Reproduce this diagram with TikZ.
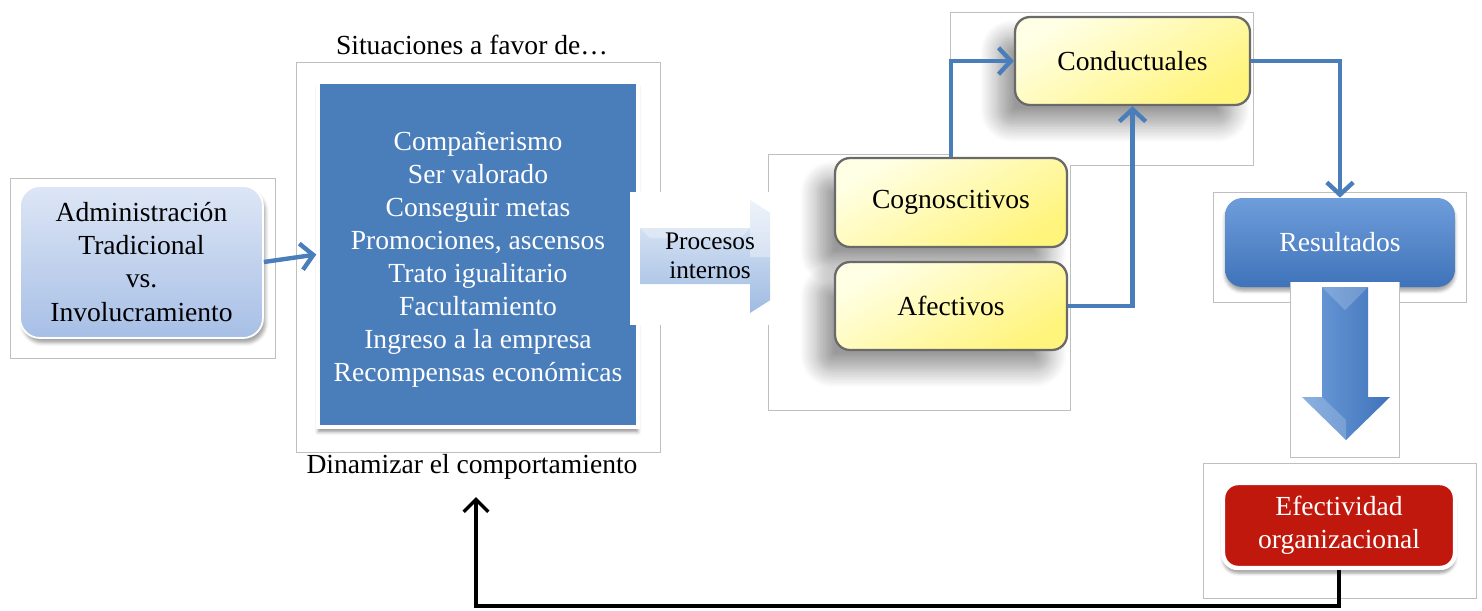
\documentclass[tikz,border=0pt]{standalone}
\usepackage{fontspec}
\setmainfont{Liberation Serif}
\usetikzlibrary{arrows.meta,shadows.blur}
\definecolor{frm}{HTML}{BFBFBF}
\definecolor{sqblue}{HTML}{4A7EBB}
\definecolor{arrblue}{HTML}{4A7EBB}
\definecolor{ylight}{HTML}{FFFFE6}
\definecolor{ydark}{HTML}{FFF47C}
\definecolor{ybord}{HTML}{6A6A6A}
\definecolor{adtop}{HTML}{DDE6F5}
\definecolor{adbot}{HTML}{A7BFE6}
\definecolor{restop}{HTML}{6E9DDA}
\definecolor{resbot}{HTML}{3F73BA}
\definecolor{efred}{HTML}{C0180C}
\definecolor{prtop}{HTML}{E4ECF8}
\definecolor{prbot}{HTML}{9FBBE2}
\begin{document}
\begin{tikzpicture}[x=0.02cm,y=-0.02cm,
  frame/.style={draw=frm,line width=0.5pt},
  txt/.style={font=\fontsize{15.7pt}{18.8pt}\selectfont,align=center},
  admin/.style={txt,rounded corners=0.4cm,top color=adtop,bottom color=adbot,draw=white,line width=1pt,
     blur shadow={shadow xshift=0.05cm,shadow yshift=-0.1cm,shadow opacity=35}},
  bluesq/.style={fill=sqblue,draw=white,line width=2pt,
     blur shadow={shadow xshift=0cm,shadow yshift=-0.1cm,shadow opacity=40}},
  yellowbox/.style={txt,rounded corners=0.3cm,draw=ybord,line width=1.3pt,
     top color=ylight,bottom color=ydark,shading angle=30,
     blur shadow={shadow xshift=-0.35cm,shadow yshift=-0.4cm,shadow opacity=40,shadow blur radius=0.35cm,shadow blur steps=12}},
  resbox/.style={txt,text=white,rounded corners=0.35cm,top color=restop,bottom color=resbot,
     blur shadow={shadow xshift=0cm,shadow yshift=-0.08cm,shadow opacity=35}},
  efbox/.style={txt,text=white,rounded corners=0.3cm,fill=efred,draw=white,line width=2.5pt,
     blur shadow={shadow xshift=0cm,shadow yshift=-0.1cm,shadow opacity=40}},
  bluearrow/.style={draw=arrblue,line width=2.5pt,-{Straight Barb[length=7pt,width=15pt,line width=2.5pt]}},
  blackarrow/.style={draw=black,line width=2pt,-{Straight Barb[length=7pt,width=14pt,line width=2pt]}}
]
\useasboundingbox (0,0) rectangle (1482,610);

% frames
\draw[frame] (10,178) rectangle (275,358);
\draw[frame] (296,62) rectangle (660,452);
\draw[frame] (950,154) -- (768,154) -- (768,410) -- (1070,410) -- (1070,165);
\draw[frame] (950,165) -- (950,12) -- (1253,12) -- (1253,165) -- (1070,165);
\draw[frame] (1213,192) rectangle (1466,302);
\draw[frame] (1203,463) rectangle (1476,598);

% labels
\node[txt] (sit) at (472,45) {Situaciones a favor de\ldots};
\node[txt] (din) at (472,467) {Dinamizar el comportamiento};

% nodes
\node[admin,minimum width=4.86cm,minimum height=3.04cm] (adm) at (141.5,262)
  {Administración\\Tradicional\\vs.\\Involucramiento};
\node[bluesq,minimum width=6.4cm,minimum height=6.9cm] (sq) at (478,254.5) {};
\node[txt,text=white] (sqtext) at (478,259.5)
  {Compañerismo\\Ser valorado\\Conseguir metas\\Promociones, ascensos\\Trato igualitario\\Facultamiento\\Ingreso a la empresa\\Recompensas económicas};
\node[yellowbox,minimum width=4.64cm,minimum height=1.78cm] (cog) at (951,202.5) {Cognoscitivos};
\node[yellowbox,minimum width=4.64cm,minimum height=1.76cm] (afe) at (951,306) {Afectivos};
\node[yellowbox,minimum width=4.7cm,minimum height=1.76cm] (con) at (1132.5,61) {Conductuales};
\node[resbox,minimum width=4.6cm,minimum height=1.78cm] (res) at (1340,242.5) {Resultados};
\node[efbox,minimum width=4.64cm,minimum height=1.7cm] (efe) at (1339,525.5) {Efectividad\\organizacional};

% Procesos internos arrow
\fill[white] (630,192) rectangle (770,325);
\begin{scope}
  \clip (630,192) rectangle (770,325);
  \shade[top color=prtop,bottom color=prbot]
    (640,228) -- (750,228) -- (750,200) -- (838,257) -- (750,313) -- (750,284) -- (640,284) -- cycle;
  \fill[white,opacity=0.35] (750,200) -- (838,257) -- (750,257) -- cycle;
  \fill[white,opacity=0.3] (640,228) -- (750,228) -- (740,238) -- (650,238) -- cycle;
\end{scope}
\node[font=\fontsize{14.4pt}{16.5pt}\selectfont,align=center] (pro) at (710,256) {Procesos\\internos};

% white panel under Resultados and big down arrow
\fill[white] (1290,282) rectangle (1399,457);
\draw[frame] (1290,282) -- (1290,457) -- (1399,457) -- (1399,282);
\shade[left color=restop,right color=resbot]
  (1322,287) -- (1368,287) -- (1368,397) -- (1390,397) -- (1346,440) -- (1302,397) -- (1322,397) -- cycle;
\fill[white,opacity=0.2] (1322,287) -- (1345,310) -- (1368,287) -- cycle;
\fill[white,opacity=0.2] (1302,397) -- (1322,397) -- (1346,420) -- (1346,440) -- cycle;

% connectors
\draw[bluearrow] (adm.east) -- (sq.west);
\draw[bluearrow] (cog.north) |- (con.west);
\draw[bluearrow] (afe.east) -| (con.south);
\draw[bluearrow] (con.east) -| (res.north);
\coordinate (fb) at (476,606);
\coordinate (dtip) at (476,497);
\draw[blackarrow] (efe.south) |- (fb) -- (dtip);
\end{tikzpicture}
\end{document}
